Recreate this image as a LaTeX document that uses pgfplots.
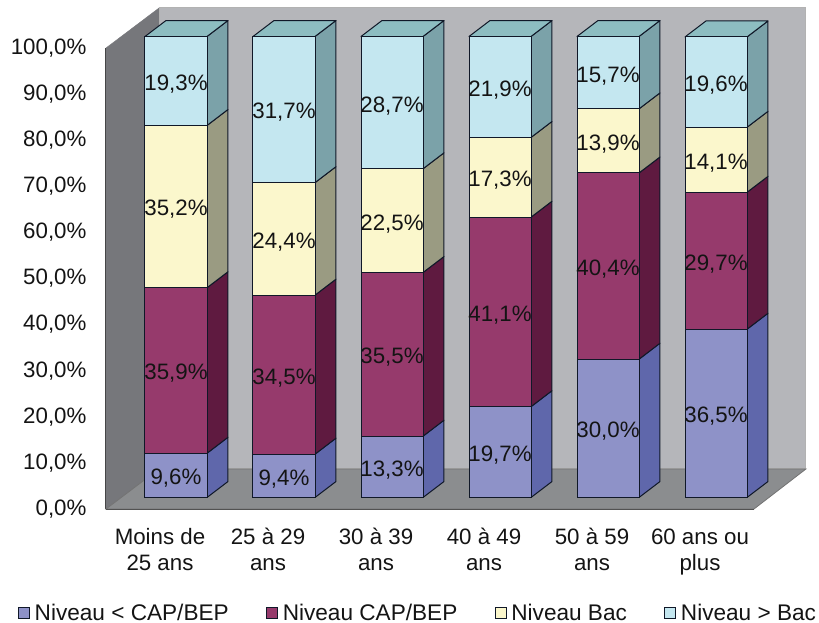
\documentclass[border=0pt]{standalone}
\usepackage{fontspec}
\setmainfont{Liberation Sans}
\usepackage{pgfplots}
\usepackage{pgfplotstable}
\pgfplotsset{compat=1.18}

% Education level by age group, in percent
\pgfplotstableread{
pos low cap bac sup
0 9.6 35.9 35.2 19.3
1 9.4 34.5 24.4 31.7
2 13.3 35.5 22.5 28.7
3 19.7 41.1 17.3 21.9
4 30.0 40.4 13.9 15.7
5 36.5 29.7 14.1 19.6
}\leveltable

\definecolor{lowF}{HTML}{8E92C8}\definecolor{lowS}{HTML}{5F67AB}
\definecolor{capF}{HTML}{963A6C}\definecolor{capS}{HTML}{5F1A40}
\definecolor{bacF}{HTML}{FBF7CC}\definecolor{bacS}{HTML}{9A9B82}
\definecolor{supF}{HTML}{C4E7F0}\definecolor{supS}{HTML}{7BA2A9}
\definecolor{supT}{HTML}{8DBDC1}
\definecolor{wallL}{HTML}{76777B}\definecolor{wallB}{HTML}{B5B6BA}
\definecolor{floorc}{HTML}{8B8D8F}\definecolor{ink}{HTML}{141414}
\definecolor{edgec}{HTML}{101828}

% Bar geometry in axis units: front face edges, depth offset, floor offset
\def\barL{-0.139}\def\barR{0.435}
\def\depX{0.1944}\def\depY{3.47}
\def\barBase{2.49}

% Side face of one segment: #1 position, #2 lower and #3 upper cumulated value, #4 colour
\newcommand\sideface[4]{%
  \pgfmathsetmacro\xa{#1+\barR}%
  \pgfmathsetmacro\xb{#1+\barR+\depX}%
  \pgfmathsetmacro\ya{#2+\barBase}%
  \pgfmathsetmacro\yb{#3+\barBase}%
  \pgfmathsetmacro\yc{#2+\barBase+\depY}%
  \pgfmathsetmacro\yd{#3+\barBase+\depY}%
  \edef\doplot{\noexpand\addplot[stack plots=false,forget plot,fill=#4,draw=edgec,line width=1pt,line join=round]
    coordinates {(\xa,\ya) (\xb,\yc) (\xb,\yd) (\xa,\yb)} --cycle;}%
  \doplot
}
% Top face of a column: #1 position, #2 height
\newcommand\topface[2]{%
  \pgfmathsetmacro\xa{#1+\barL}%
  \pgfmathsetmacro\xb{#1+\barR}%
  \pgfmathsetmacro\xc{#1+\barR+\depX}%
  \pgfmathsetmacro\xd{#1+\barL+\depX}%
  \pgfmathsetmacro\ya{#2+\barBase}%
  \pgfmathsetmacro\yb{#2+\barBase+\depY}%
  \edef\doplot{\noexpand\addplot[stack plots=false,forget plot,fill=supT,draw=edgec,line width=1pt,line join=round]
    coordinates {(\xa,\ya) (\xb,\ya) (\xc,\yb) (\xd,\yb)} --cycle;}%
  \doplot
}
% Value label centred on a segment
\newcommand\seglabel[3]{%
  \pgfmathsetmacro\xm{#1+(\barL+\barR)/2}%
  \pgfmathsetmacro\ym{#2+(#3)/2+\barBase}%
  \pgfmathprintnumberto[fixed,fixed zerofill,precision=1,use comma,assume math mode=true]{#3}\txt
  \edef\dolabel{\noexpand\node[font=\noexpand\labelfont,text=ink,inner sep=0pt,yshift=-3pt] at (axis cs:\xm,\ym) {\txt\noexpand\%};}%
  \dolabel
}
\newcommand\labelfont{\fontsize{22.3}{26}\selectfont}

\begin{document}
\begin{tikzpicture}[x=1pt,y=1pt]
\useasboundingbox (0,0) rectangle (819,623);
\begin{axis}[
  at={(106pt,114pt)},anchor=south west,
  scale only axis,width=648pt,height=461pt,
  xmin=-0.5,xmax=5.5,ymin=0,ymax=100,
  clip=false,
  stack plots=y,
  reverse stacked plots=false,
  axis x line*=bottom,axis y line*=left,
  axis line style={draw=black!75,line width=1.2pt,-},
  xtick={0,1,2,3,4,5},
  xticklabels={{Moins de\\25 ans},{25 à 29\\ans},{30 à 39\\ans},{40 à 49\\ans},{50 à 59\\ans},{60 ans ou\\plus}},
  x tick label style={align=center,font=\fontsize{22.3}{26}\selectfont,text=ink,yshift=-16pt},
  ytick={0,10,...,100},
  yticklabel={\pgfmathprintnumber{\tick}\%},
  y tick label style={font=\fontsize{22.3}{26}\selectfont,text=ink,xshift=-16pt,
    /pgf/number format/.cd,fixed,fixed zerofill,precision=1,use comma,assume math mode=true},
  tick style={draw=none},
  major tick length=0pt,
  legend style={at={(-88pt,-93pt)},anchor=north west,draw=none,fill=none,
    legend columns=4,font=\fontsize{22.6}{26}\selectfont,text=ink,inner sep=0pt,
    /tikz/every odd column/.style={column sep=2.5pt},
    /tikz/every even column/.style={column sep=35.5pt}},
  legend cell align=left,
  legend image code/.code={\draw[#1,draw=edgec,line width=1pt] (0pt,-5.5pt) rectangle (11pt,5.5pt);},
]
% Walls and floor of the box
\addplot[stack plots=false,forget plot,fill=wallL,draw=wallL] coordinates {(-0.5,0) (-0.5,100) (-0.009,108.68) (-0.009,8.68)} --cycle;
\addplot[stack plots=false,forget plot,fill=wallB,draw=black!30,line width=1pt] coordinates {(-0.009,8.68) (-0.009,108.68) (5.981,108.68) (5.981,8.68)} --cycle;
\addplot[stack plots=false,forget plot,fill=floorc,draw=black!55,line width=.8pt] coordinates {(-0.5,0) (5.5,0) (5.981,8.68) (-0.009,8.68)} --cycle;

% Side and top faces, from the cumulated values of each row
\pgfplotsinvokeforeach{0,...,5}{
  \pgfplotstablegetelem{#1}{low}\of\leveltable\edef\va{\pgfplotsretval}
  \pgfplotstablegetelem{#1}{cap}\of\leveltable\edef\vb{\pgfplotsretval}
  \pgfplotstablegetelem{#1}{bac}\of\leveltable\edef\vc{\pgfplotsretval}
  \pgfplotstablegetelem{#1}{sup}\of\leveltable\edef\vd{\pgfplotsretval}
  \pgfmathsetmacro\sa{\va}
  \pgfmathsetmacro\sb{\sa+\vb}
  \pgfmathsetmacro\sc{\sb+\vc}
  \pgfmathsetmacro\sd{\sc+\vd}
  \sideface{#1}{0}{\sa}{lowS}
  \sideface{#1}{\sa}{\sb}{capS}
  \sideface{#1}{\sb}{\sc}{bacS}
  \sideface{#1}{\sc}{\sd}{supS}
  \topface{#1}{\sd}
}

% Front faces
\addplot[ybar,forget plot,bar width=62pt,bar shift=16pt,yshift=11.5pt,fill=lowF,draw=edgec,line width=1pt] table[x=pos,y=low]{\leveltable};
\addplot[ybar,forget plot,bar width=62pt,bar shift=16pt,yshift=11.5pt,fill=capF,draw=edgec,line width=1pt] table[x=pos,y=cap]{\leveltable};
\addplot[ybar,forget plot,bar width=62pt,bar shift=16pt,yshift=11.5pt,fill=bacF,draw=edgec,line width=1pt] table[x=pos,y=bac]{\leveltable};
\addplot[ybar,forget plot,bar width=62pt,bar shift=16pt,yshift=11.5pt,fill=supF,draw=edgec,line width=1pt] table[x=pos,y=sup]{\leveltable};

% Value labels
\pgfplotsinvokeforeach{0,...,5}{
  \pgfplotstablegetelem{#1}{low}\of\leveltable\edef\va{\pgfplotsretval}
  \pgfplotstablegetelem{#1}{cap}\of\leveltable\edef\vb{\pgfplotsretval}
  \pgfplotstablegetelem{#1}{bac}\of\leveltable\edef\vc{\pgfplotsretval}
  \pgfplotstablegetelem{#1}{sup}\of\leveltable\edef\vd{\pgfplotsretval}
  \pgfmathsetmacro\sa{\va}
  \pgfmathsetmacro\sb{\sa+\vb}
  \pgfmathsetmacro\sc{\sb+\vc}
  \seglabel{#1}{0}{\va}
  \seglabel{#1}{\sa}{\vb}
  \seglabel{#1}{\sb}{\vc}
  \seglabel{#1}{\sc}{\vd}
}

\addlegendimage{fill=lowF}\addlegendentry{Niveau < CAP/BEP}
\addlegendimage{fill=capF}\addlegendentry{Niveau CAP/BEP}
\addlegendimage{fill=bacF}\addlegendentry{Niveau Bac}
\addlegendimage{fill=supF}\addlegendentry{Niveau > Bac}
\end{axis}
\end{tikzpicture}
\end{document}
